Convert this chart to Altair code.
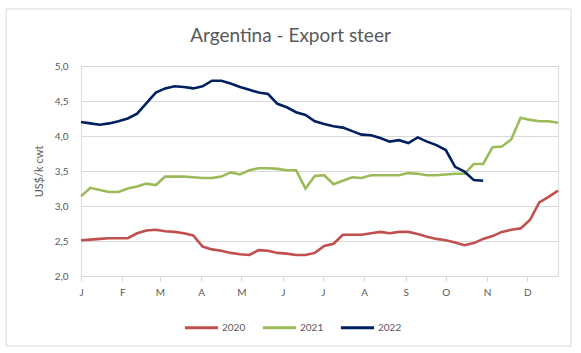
import altair as alt
import pandas as pd

# Weekly values (US$/k cwt), week index 0..51
y2020 = [2.51, 2.52, 2.53, 2.54, 2.54, 2.54, 2.61, 2.65, 2.66, 2.64, 2.63, 2.61, 2.58,
         2.42, 2.38, 2.36, 2.33, 2.31, 2.30, 2.37, 2.36, 2.33, 2.32, 2.30, 2.30, 2.33,
         2.43, 2.46, 2.59, 2.59, 2.59, 2.61, 2.63, 2.61, 2.63, 2.63, 2.60, 2.56, 2.53,
         2.51, 2.48, 2.44, 2.47, 2.53, 2.57, 2.63, 2.66, 2.68, 2.80, 3.05, 3.13, 3.22]
y2021 = [3.14, 3.26, 3.23, 3.20, 3.20, 3.25, 3.28, 3.32, 3.30, 3.42, 3.42, 3.42, 3.41,
         3.40, 3.40, 3.42, 3.48, 3.45, 3.51, 3.54, 3.54, 3.53, 3.51, 3.51, 3.25, 3.43,
         3.44, 3.31, 3.36, 3.41, 3.40, 3.44, 3.44, 3.44, 3.44, 3.47, 3.46, 3.44, 3.44,
         3.45, 3.46, 3.46, 3.60, 3.60, 3.84, 3.85, 3.95, 4.26, 4.23, 4.21, 4.21, 4.19]
y2022 = [4.20, 4.18, 4.16, 4.18, 4.21, 4.25, 4.32, 4.47, 4.62, 4.68, 4.71, 4.70, 4.68,
         4.71, 4.79, 4.79, 4.75, 4.70, 4.66, 4.62, 4.60, 4.46, 4.41, 4.34, 4.30, 4.21,
         4.17, 4.14, 4.12, 4.07, 4.02, 4.01, 3.97, 3.92, 3.94, 3.90, 3.98, 3.92, 3.87,
         3.80, 3.56, 3.49, 3.37, 3.36]

years = ["2020", "2021", "2022"]
colors = ["#C0504D", "#9BBB59", "#002060"]
month_labels = ["J", "F", "M", "A", "M", "J", "J", "A", "S", "O", "N", "D"]
month_start_day = [0, 31, 59, 90, 120, 151, 181, 212, 243, 273, 304, 334]
y_ticks = [2.0, 2.5, 3.0, 3.5, 4.0, 4.5, 5.0]

tick_pos = [round(d / 7, 4) for d in month_start_day]

rows = []
for yr, series in zip(years, [y2020, y2021, y2022]):
    for i, v in enumerate(series):
        rows.append({"week": i, "value": v, "year": yr})
df = pd.DataFrame(rows)

label_expr = "[" + ",".join(f"'{m}'" for m in month_labels) + "][indexof([" + \
    ",".join(str(p) for p in tick_pos) + "], datum.value)]"

FONT = "Lato"
GRAY = "#595959"

lines = alt.Chart(df).mark_line(strokeWidth=2.6).encode(
    x=alt.X("week:Q", scale=alt.Scale(domain=[0, 51], nice=False, zero=False),
            axis=alt.Axis(values=tick_pos, labelExpr=label_expr, grid=False,
                          domainColor="#D9D9D9", tickColor="#D9D9D9", tickSize=5,
                          labelPadding=6, labelFontSize=10, labelColor=GRAY,
                          labelFont=FONT, title=None, labelAlign="center")),
    y=alt.Y("value:Q", scale=alt.Scale(domain=[2.0, 5.0], nice=False, zero=False),
            axis=alt.Axis(values=y_ticks,
                          labelExpr="replace(format(datum.value, '.1f'), '.', ',')",
                          grid=True, gridColor="#D9D9D9", domain=False, ticks=False,
                          labelPadding=13, labelFontSize=10, labelColor=GRAY,
                          labelFont=FONT, title="US$/k cwt", titleFontSize=11,
                          titleFont=FONT, titleColor=GRAY, titleFontWeight="normal",
                          titlePadding=10)),
    color=alt.Color("year:N", scale=alt.Scale(domain=years, range=colors),
                    legend=alt.Legend(orient="none", legendX=102, legendY=243,
                                      direction="horizontal", title=None,
                                      symbolType="stroke", symbolSize=1100,
                                      symbolStrokeWidth=3, labelFontSize=10,
                                      labelColor=GRAY, labelFont=FONT,
                                      labelOffset=2, columnPadding=10)),
)

border = alt.Chart(pd.DataFrame({"a": [0]})).mark_rect(
    fill=None, stroke="#D9D9D9", strokeWidth=1
).encode(
    x=alt.value(-75), x2=alt.value(490), y=alt.value(-57), y2=alt.value(280)
)

chart = alt.layer(border, lines).properties(
    width=477, height=210,
    title=alt.TitleParams("Argentina - Export steer", fontSize=19, font=FONT,
                          color=GRAY, fontWeight="normal", anchor="middle",
                          frame="group", offset=0, dy=37, dx=-29),
    autosize=alt.AutoSizeParams(type="none"),
    padding={"left": 81, "top": 66, "right": 23, "bottom": 77},
).configure_view(stroke=None).configure(background="white")

chart.save("out.html", embed_options={"renderer": "svg", "actions": False})
